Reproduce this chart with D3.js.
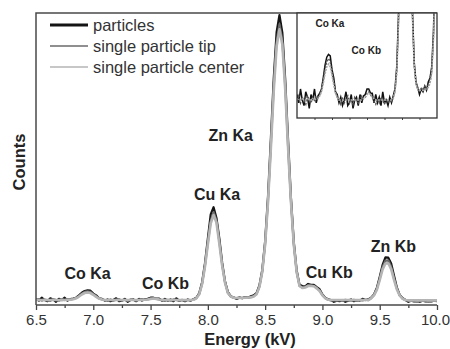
<!DOCTYPE html>
<html>
<head>
<meta charset="utf-8">
<script src="https://cdn.jsdelivr.net/npm/d3@7/dist/d3.min.js"></script>
<style>
  html, body { margin: 0; padding: 0; background: #fff; }
  svg { display: block; font-family: "Liberation Sans", Arial, sans-serif; }
</style>
</head>
<body>
<svg id="chart" width="450" height="349"></svg>
<script>
// Channel energies (kV)
const energy = [
  6.5,6.525,6.55,6.575,6.6,6.625,6.65,6.675,6.7,6.725,
  6.75,6.775,6.8,6.825,6.85,6.875,6.9,6.925,6.95,6.975,
  7.0,7.025,7.05,7.075,7.1,7.125,7.15,7.175,7.2,7.225,
  7.25,7.275,7.3,7.325,7.35,7.375,7.4,7.425,7.45,7.475,
  7.5,7.525,7.55,7.575,7.6,7.625,7.65,7.675,7.7,7.725,
  7.75,7.775,7.8,7.825,7.85,7.875,7.9,7.925,7.95,7.975,
  8.0,8.025,8.05,8.075,8.1,8.125,8.15,8.175,8.2,8.225,
  8.25,8.275,8.3,8.325,8.35,8.375,8.4,8.425,8.45,8.475,
  8.5,8.525,8.55,8.575,8.6,8.625,8.65,8.675,8.7,8.725,
  8.75,8.775,8.8,8.825,8.85,8.875,8.9,8.925,8.95,8.975,
  9.0,9.025,9.05,9.075,9.1,9.125,9.15,9.175,9.2,9.225,
  9.25,9.275,9.3,9.325,9.35,9.375,9.4,9.425,9.45,9.475,
  9.5,9.525,9.55,9.575,9.6,9.625,9.65,9.675,9.7,9.725,
  9.75,9.775,9.8,9.825,9.85,9.875,9.9,9.925,9.95,9.975,
  10.0
];

// Counts (arbitrary units) for each spectrum
const particles = [
  21,15,25,17,13,23,19,11,21,17,
  25,15,20,22,25,33,42,48,50,49,
  39,33,23,21,15,19,13,17,23,13,
  15,21,11,17,19,13,21,15,20,21,
  25,25,22,22,15,21,15,19,13,23,
  15,17,13,19,15,20,25,41,78,143,
  227,310,335,298,228,144,80,44,30,26,
  21,25,23,27,24,30,33,41,67,120,
  219,371,569,775,934,993,933,774,567,369,
  216,119,69,65,64,72,69,69,61,54,
  36,25,19,17,11,15,13,17,11,15,
  19,13,17,15,21,17,19,25,36,58,
  96,137,163,162,142,100,59,34,23,17,
  11,15,12,13,11,15,12,13,12,15,
  13
];
const particleTip = [
  17,20,15,19,16,14,20,17,15,19,
  17,20,19,21,24,31,39,45,47,45,
  37,30,23,19,17,14,19,15,18,20,
  15,18,14,19,17,15,18,20,18,19,
  22,23,21,19,16,14,18,15,19,17,
  14,18,15,17,16,19,24,38,74,136,
  214,288,318,290,218,138,78,42,29,25,
  23,26,24,27,25,28,30,38,63,115,
  210,357,548,748,902,962,906,750,545,358,
  208,114,66,60,62,68,67,66,59,50,
  34,24,18,16,17,15,17,14,18,16,
  15,18,14,17,16,18,17,24,34,55,
  90,130,152,153,131,91,56,33,22,17,
  15,14,17,13,16,14,17,13,15,14,
  15
];
const particleCenter = [
  18,17,17,18,17,17,18,17,17,18,
  17,18,18,20,23,29,36,41,43,41,
  35,28,22,19,17,17,17,17,17,17,
  17,17,17,17,17,17,17,17,18,19,
  21,22,21,19,18,17,17,17,17,17,
  17,17,17,17,17,18,23,37,72,132,
  208,280,308,282,210,134,76,41,29,25,
  24,24,24,25,25,26,29,37,62,114,
  208,352,538,733,885,944,892,740,540,355,
  207,113,65,58,60,65,65,64,57,48,
  33,23,18,17,17,17,17,17,17,17,
  17,17,17,17,17,17,17,23,33,52,
  85,122,142,143,123,86,53,32,21,17,
  16,16,16,16,16,16,16,16,16,16,
  16
];

const seriesNames = ["particles", "single particle tip", "single particle center"];
const majorTicks = [6.5, 7.0, 7.5, 8.0, 8.5, 9.0, 9.5, 10.0];
const minorTicks = [6.75, 7.25, 7.75, 8.25, 8.75, 9.25, 9.75];
const insetTicks = [6.75, 7.0, 7.25, 7.5, 7.75, 8.0, 8.25];

// Peak annotations: [label, energy, count]
const peakLabels = [
  ["Co Ka", 6.95, 88],
  ["Co Kb", 7.63, 55],
  ["Cu Ka", 8.08, 360],
  ["Zn Ka", 8.20, 560],
  ["Cu Kb", 9.06, 92],
  ["Zn Kb", 9.62, 182]
];
const insetLabels = [
  ["Co Ka", 6.97, 70],
  ["Co Kb", 7.49, 50]
];

const svg = d3.select("#chart");
const L = 36, R = 437, T = 13, B = 305;

const x = d3.scaleLinear().domain([6.5, 10.0]).range([L, R]);
const y = d3.scaleLinear().domain([0, 1000]).range([B, T]);

const spectra = [
  { name: seriesNames[0], values: particles,      color: "#141414", width: 2.2 },
  { name: seriesNames[1], values: particleTip,    color: "#6a6a6a", width: 2.2 },
  { name: seriesNames[2], values: particleCenter, color: "#b4b4b4", width: 2.6 }
];

svg.append("defs").append("clipPath").attr("id", "plotClip")
  .append("rect").attr("x", L).attr("y", T).attr("width", R - L).attr("height", B - T);

const line = d3.line().x((d, i) => x(energy[i])).y(d => y(d));

const plot = svg.append("g").attr("clip-path", "url(#plotClip)");
spectra.forEach(s => {
  plot.append("path").datum(s.values)
    .attr("d", line)
    .attr("fill", "none")
    .attr("stroke", s.color)
    .attr("stroke-width", s.width)
    .attr("stroke-linejoin", "round");
});

// Bottom axis with major and minor ticks
const axisMajor = d3.axisBottom(x).tickValues(majorTicks).tickSize(5).tickPadding(4)
  .tickFormat(d3.format(".1f"));
const axisMinor = d3.axisBottom(x).tickValues(minorTicks).tickSize(3).tickFormat("");

const gx = svg.append("g").attr("transform", `translate(0,${B})`).call(axisMajor);
gx.select(".domain").remove();
gx.selectAll("line").attr("stroke", "#444").attr("stroke-width", 1.3);
gx.selectAll("text").attr("fill", "#333").style("font-size", "15px")
  .style("font-family", "'Liberation Sans', Arial, sans-serif");
// last label sits at the right edge; nudge it so it stays inside the page
gx.selectAll(".tick").filter(d => d === 10.0).select("text").attr("x", -2);

const gxm = svg.append("g").attr("transform", `translate(0,${B})`).call(axisMinor);
gxm.select(".domain").remove();
gxm.selectAll("line").attr("stroke", "#444").attr("stroke-width", 1.3);

// Frame lines
svg.append("path")
  .attr("d", `M${L},${B}H${R}M${L},${B}V${T}H${R}`)
  .attr("fill", "none").attr("stroke", "#4a4a4a").attr("stroke-width", 1.5);

// Axis titles
svg.append("text").attr("x", 250).attr("y", 345).attr("text-anchor", "middle")
  .attr("font-weight", "bold").attr("font-size", 16.5).attr("fill", "#222")
  .text("Energy (kV)");
svg.append("text").attr("transform", "translate(25,162) rotate(-90)")
  .attr("text-anchor", "middle").attr("font-weight", "bold").attr("font-size", 16.5)
  .attr("fill", "#222").text("Counts");

// Peak labels
svg.selectAll("text.peak").data(peakLabels).enter().append("text")
  .attr("class", "peak")
  .attr("x", d => x(d[1])).attr("y", d => y(d[2]))
  .attr("text-anchor", "middle").attr("font-weight", "bold").attr("font-size", 16)
  .attr("fill", "#222").text(d => d[0]);

// Legend
const legend = svg.append("g");
spectra.forEach((s, i) => {
  const ly = 25 + i * 21;
  legend.append("line").attr("x1", 50).attr("x2", 88).attr("y1", ly).attr("y2", ly)
    .attr("stroke", s.color).attr("stroke-width", i === 0 ? 2.8 : 1.7);
  legend.append("text").attr("x", 93).attr("y", ly + 6).attr("font-size", 16.5)
    .attr("fill", "#333").text(s.name);
});

// Inset: low-energy region, magnified counts
const iL = 297, iR = 437, iT = 13, iB = 118;
const ix = d3.scaleLinear().domain([6.5, 8.5]).range([iL, iR]);
const iy = d3.scaleLinear().domain([4, 80]).range([iB, iT]);

svg.select("defs").append("clipPath").attr("id", "insetClip")
  .append("rect").attr("x", iL).attr("y", iT).attr("width", iR - iL).attr("height", iB - iT);

const inset = svg.append("g");
inset.append("rect").attr("x", iL).attr("y", iT).attr("width", iR - iL).attr("height", iB - iT)
  .attr("fill", "#fff");

const iline = d3.line().x((d, i) => ix(energy[i])).y(d => iy(d));
const insetStyles = [
  { color: "#111", width: 1.5, dash: null },
  { color: "#555", width: 1.5, dash: "2,1.5" },
  { color: "#aaa", width: 1.6, dash: "2,1" }
];
const ig = inset.append("g").attr("clip-path", "url(#insetClip)");
spectra.forEach((s, i) => {
  ig.append("path").datum(s.values)
    .attr("d", iline)
    .attr("fill", "none")
    .attr("stroke", insetStyles[i].color)
    .attr("stroke-width", insetStyles[i].width)
    .attr("stroke-dasharray", insetStyles[i].dash);
});

const ixAxis = d3.axisBottom(ix).tickValues(insetTicks).tickSize(2).tickFormat("");
const gix = inset.append("g").attr("transform", `translate(0,${iB})`).call(ixAxis);
gix.select(".domain").remove();
gix.selectAll("line").attr("stroke", "#444");

inset.append("rect").attr("x", iL).attr("y", iT).attr("width", iR - iL).attr("height", iB - iT)
  .attr("fill", "none").attr("stroke", "#333").attr("stroke-width", 1.3);

inset.selectAll("text.ilabel").data(insetLabels).enter().append("text")
  .attr("class", "ilabel")
  .attr("x", d => ix(d[1])).attr("y", d => iy(d[2]))
  .attr("text-anchor", "middle").attr("font-weight", "bold").attr("font-size", 10)
  .attr("fill", "#222").text(d => d[0]);
</script>
</body>
</html>
